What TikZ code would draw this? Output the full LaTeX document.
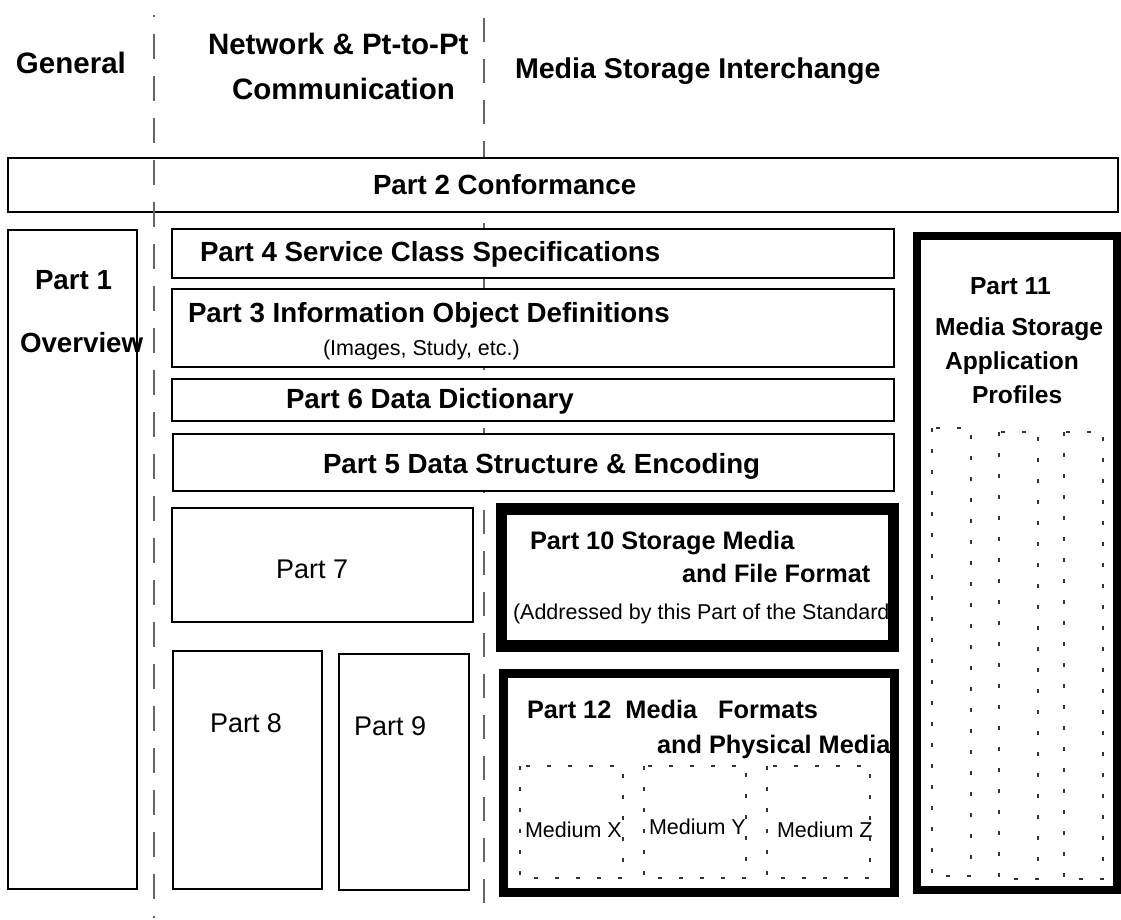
\documentclass[tikz,border=0pt]{standalone}
\usepackage{fontspec}
\setmainfont{Liberation Sans}
\begin{document}
\begin{tikzpicture}[x=1pt,y=-1pt,
  box/.style={draw=black, line width=1.5pt, fill=white},
  heavybox/.style={draw=black, fill=white},
  divider/.style={draw=black!60, line width=1.2pt},
  dotbox/.style={draw=black!80, line width=1.3pt, dash pattern=on 4pt off 17pt},
  lbl/.style={anchor=base west, inner sep=0pt, outer sep=0pt},
  head/.style={lbl, font=\fontsize{29.5}{34}\selectfont\bfseries},
  ptitle/.style={lbl, font=\fontsize{27.7}{32}\selectfont\bfseries},
  mtitle/.style={lbl, font=\fontsize{25.3}{30}\selectfont\bfseries},
  stitle/.style={lbl, font=\fontsize{24.6}{29}\selectfont\bfseries},
  plain/.style={lbl, font=\fontsize{27}{32}\selectfont},
  small/.style={lbl, font=\fontsize{21.5}{26}\selectfont}]
\useasboundingbox (0,0) rectangle (1121,920);

% column divider between network and media storage (behind the boxes)
\coordinate (d2top) at (484,18);
\coordinate (d2bot) at (484,903);
\draw[divider, dash pattern=on 24pt off 17pt] (d2top) -- (d2bot);

% column headings
\node[head] (general) at (16,74) {General};
\node[head] (net1) at (208,55) {Network \& Pt-to-Pt};
\node[head] (net2) at (232,100) {Communication};
\node[head, font=\fontsize{28.6}{33}\selectfont\bfseries] (msi) at (515,79) {Media Storage Interchange};

% Part 2 spanning all columns
\path[box] (8,158) rectangle (1118,212);
\node[ptitle] (p2) at (373,195) {Part 2 Conformance};

% Part 1
\path[box] (8,230) rectangle (137,889);

% network column parts
\path[box] (172,229) rectangle (894,278);
\path[box] (172,289) rectangle (894,367);
\path[box] (172,379) rectangle (894,421);
\path[box] (173,434) rectangle (894,491);
\path[box] (172,508) rectangle (473,622);
\path[box] (173,651) rectangle (322,889);
\path[box] (339,654) rectangle (469,890);

\node[ptitle] (p1a) at (35,289) {Part 1};
\node[ptitle] (p1b) at (20,352) {Overview};
\node[ptitle] (p4) at (200,261) {Part 4 Service Class Specifications};
\node[ptitle] (p3) at (188,322) {Part 3 Information Object Definitions};
\node[small] (p3s) at (323,355) {(Images, Study, etc.)};
\node[ptitle] (p6) at (286,408) {Part 6 Data Dictionary};
\node[ptitle] (p5) at (323,473) {Part 5 Data Structure \& Encoding};
\node[plain] (p7) at (276,578) {Part 7};
\node[plain] (p8) at (210,732) {Part 8};
\node[plain] (p9) at (354,735) {Part 9};

% Part 10: white ground, text, then the heavy frame over the text
\fill[white] (501.5,509) rectangle (893.5,646);
\node[mtitle] (p10a) at (530,549) {Part 10 Storage Media};
\node[mtitle] (p10b) at (682,582) {and File Format};
\node[small] (p10c) at (513,619) {(Addressed by this Part of the Standard};
\draw[black, line width=11.5pt] (501.5,509) rectangle (893.5,646);

% Part 12 with its media
\path[heavybox, line width=9pt] (503,673) rectangle (894.5,892.5);
\node[mtitle] (p12a) at (527,718) {Part 12\hspace{0.556em}Media\hspace{0.834em}Formats};
\node[mtitle] (p12b) at (657,753) {and Physical Media};
\path[dotbox] (520,766) rectangle (623,878);
\path[dotbox] (644,766) rectangle (746,878);
\path[dotbox] (767,766) rectangle (870,878);
\node[small] (mx) at (525,837) {Medium X};
\node[small] (my) at (649,834) {Medium Y};
\node[small] (mz) at (777,837) {Medium Z};

% Part 11 with its profiles
\path[heavybox, line width=8pt] (917,236) rectangle (1117,890);
\node[stitle] (p11a) at (970,294) {Part 11};
\node[stitle] (p11b) at (935,335) {Media Storage};
\node[stitle] (p11c) at (945,369) {Application};
\node[stitle] (p11d) at (972,403) {Profiles};
\path[dotbox] (932,428) rectangle (971,876);
\path[dotbox] (999,432) rectangle (1038,879);
\path[dotbox] (1064,432) rectangle (1103,879);

% column divider between general and network (drawn over Part 2)
\coordinate (d1top) at (154,15);
\coordinate (d1bot) at (154,918);
\draw[divider, dash pattern=on 25pt off 17pt, dash phase=23pt] (d1top) -- (d1bot);
\end{tikzpicture}
\end{document}
